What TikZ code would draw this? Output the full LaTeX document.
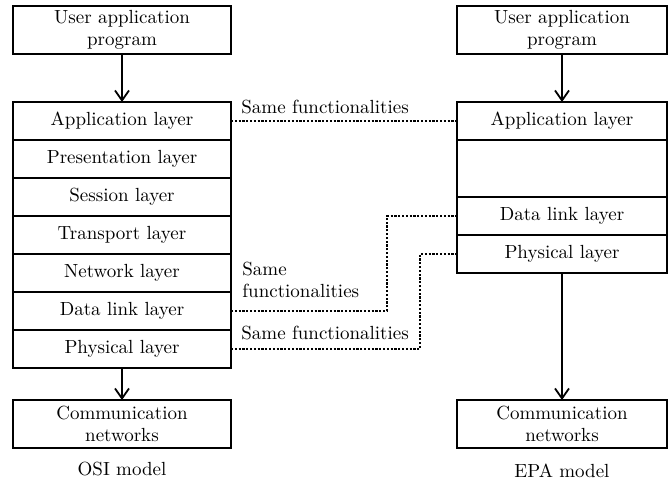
\documentclass[tikz,border=0pt]{standalone}
\usepackage{fontspec}
\usepackage{tikz}
\usetikzlibrary{arrows.meta, positioning, calc}

\begin{document}
\begin{tikzpicture}[
        x=1pt, y=1pt,
        font=\fontsize{9.5}{11}\selectfont,
        box/.style={draw, line width=0.9pt, inner sep=0pt, outer sep=0pt, align=center},
        oslayer/.style={box, minimum width=109pt, minimum height=19pt},
        eplayer/.style={box, minimum width=105pt, minimum height=19pt},
        endbox/.style={box, minimum height=24pt},
        link/.style={line width=0.8pt, dash pattern=on 1.1pt off 0.8pt},
        flow/.style={line width=0.9pt, -{Straight Barb[length=5pt,width=7pt,line width=0.9pt]}},
        note/.style={anchor=west, inner sep=0pt, align=left}
    ]
    \useasboundingbox (0,0) rectangle (334,-240.5);

    % OSI model
    \node[endbox, minimum width=109pt] (otop) at (61,-15) {User application\\program};
    \node[oslayer, below=24pt of otop] (oapp) {Application layer};
    \node[oslayer, below=0pt of oapp] (opre) {Presentation layer};
    \node[oslayer, below=0pt of opre] (oses) {Session layer};
    \node[oslayer, below=0pt of oses] (otra) {Transport layer};
    \node[oslayer, below=0pt of otra] (onet) {Network layer};
    \node[oslayer, below=0pt of onet] (odl) {Data link layer};
    \node[oslayer, below=0pt of odl] (ophy) {Physical layer};
    \node[endbox, minimum width=109pt, below=16pt of ophy] (ocomm) {Communication\\networks};
    \node (oname) at (61,-234.5) {OSI model};

    % EPA model
    \node[endbox, minimum width=105pt] (etop) at (281,-15) {User application\\program};
    \node[eplayer, below=24pt of etop] (eapp) {Application layer};
    \node[eplayer, minimum height=28.5pt, below=0pt of eapp] (egap) {};
    \node[eplayer, below=0pt of egap] (edl) {Data link layer};
    \node[eplayer, below=0pt of edl] (ephy) {Physical layer};
    \node[endbox, minimum width=105pt, below=63.5pt of ephy] (ecomm) {Communication\\networks};
    \node (ename) at (281,-235.5) {EPA model};

    % Edges
    \draw[flow] (otop) -- (oapp);
    \draw[flow] (ophy) -- (ocomm);
    \draw[flow] (etop) -- (eapp);
    \draw[flow] (ephy) -- (ecomm);

    % Same functionalities
    \coordinate (bendA) at (193.5,0);
    \coordinate (bendB) at (210,0);
    \draw[link] (oapp.east) -- (eapp.west);
    \draw[link] (odl.east) -- (odl.east -| bendA) |- (edl.west);
    \draw[link] (ophy.east) -- (ophy.east -| bendB) |- (ephy.west);
    \node[note] (sameA) at (120.5,-53.5) {Same functionalities};
    \node[note] (sameB) at (121,-139.75) {Same\\functionalities};
    \node[note] (sameC) at (120.5,-166.5) {Same functionalities};
\end{tikzpicture}
\end{document}
